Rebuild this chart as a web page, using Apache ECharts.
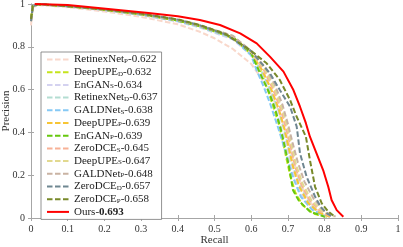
<!DOCTYPE html>
<html>
<head>
<meta charset="utf-8">
<script src="https://cdn.jsdelivr.net/npm/echarts@6/dist/echarts.min.js"></script>
<style>html,body{margin:0;padding:0;background:#fff}#c{width:403px;height:247px}</style>
</head>
<body>
<div id="c"></div>
<script>
var xTicks = ['0','0.1','0.2','0.3','0.4','0.5','0.6','0.7','0.8','0.9','1'];
var yTicks = ['0','0.2','0.4','0.6','0.8','1'];

var methods = ['RetinexNet','DeepUPE','EnGAN','RetinexNet','GALDNet','DeepUPE','EnGAN','ZeroDCE','DeepUPE','GALDNet','ZeroDCE','ZeroDCE','Ours'];
var subs    = ['P','D','S','D','S','P','P','S','S','P','D','P',''];
var scores  = ['0.622','0.632','0.634','0.637','0.638','0.639','0.639','0.645','0.647','0.648','0.657','0.658','0.693'];
var colors  = ['#f9d8cb','#c5e41c','#d4d2f0','#b3ddd2','#86c9f5','#f7c535','#66c80e','#f8b196','#e2d98f','#c9b3a3','#6f8791','#78892a','#ff0000'];

var retinexP = [[0,0.9],[0.005,0.985],[0.02,0.995],[0.1,0.985],[0.2,0.965],[0.3,0.94],[0.4,0.905],[0.46,0.87],[0.5,0.84],[0.55,0.79],[0.6,0.72],[0.625,0.66],[0.65,0.59],[0.67,0.52],[0.685,0.45],[0.7,0.37],[0.71,0.3],[0.725,0.21],[0.745,0.12],[0.77,0.05],[0.8,0.01]];
var deepupeD = [[0,0.93],[0.005,0.99],[0.02,0.998],[0.1,0.99],[0.2,0.973],[0.3,0.952],[0.4,0.922],[0.46,0.895],[0.55,0.84],[0.6,0.765],[0.625,0.69],[0.645,0.6],[0.66,0.52],[0.675,0.44],[0.687,0.35],[0.695,0.286],[0.706,0.2],[0.72,0.12],[0.74,0.06],[0.77,0.02],[0.81,0.004]];
var enganS = [[0,0.92],[0.005,0.99],[0.02,0.997],[0.1,0.988],[0.2,0.97],[0.3,0.948],[0.4,0.918],[0.46,0.89],[0.55,0.835],[0.6,0.76],[0.63,0.67],[0.655,0.57],[0.67,0.49],[0.685,0.4],[0.7,0.31],[0.712,0.22],[0.73,0.13],[0.755,0.06],[0.785,0.02],[0.815,0.005]];
var retinexD = [[0,0.92],[0.005,0.99],[0.02,0.998],[0.1,0.99],[0.2,0.972],[0.3,0.95],[0.4,0.92],[0.46,0.893],[0.55,0.84],[0.6,0.765],[0.63,0.68],[0.655,0.59],[0.675,0.5],[0.69,0.41],[0.703,0.32],[0.716,0.23],[0.735,0.14],[0.76,0.065],[0.79,0.02],[0.82,0.005]];
var galdS = [[0,0.92],[0.005,0.99],[0.02,0.998],[0.1,0.99],[0.2,0.973],[0.3,0.951],[0.4,0.921],[0.46,0.895],[0.55,0.843],[0.6,0.76],[0.615,0.69],[0.635,0.61],[0.651,0.537],[0.668,0.45],[0.683,0.37],[0.698,0.28],[0.714,0.19],[0.735,0.1],[0.765,0.04],[0.8,0.008]];
var deepupeP = [[0,0.93],[0.005,0.99],[0.02,0.998],[0.1,0.99],[0.2,0.973],[0.3,0.952],[0.4,0.923],[0.46,0.897],[0.55,0.845],[0.6,0.77],[0.63,0.69],[0.655,0.6],[0.675,0.51],[0.69,0.42],[0.702,0.33],[0.714,0.24],[0.73,0.15],[0.755,0.07],[0.785,0.025],[0.815,0.006]];
var enganP = [[0,0.93],[0.005,0.99],[0.02,0.998],[0.1,0.99],[0.2,0.973],[0.3,0.952],[0.4,0.923],[0.46,0.897],[0.55,0.845],[0.6,0.77],[0.624,0.677],[0.648,0.59],[0.665,0.51],[0.68,0.42],[0.692,0.33],[0.703,0.24],[0.714,0.13],[0.73,0.08],[0.76,0.03],[0.8,0.006]];
var zerodceS = [[0,0.92],[0.005,0.99],[0.02,0.998],[0.1,0.99],[0.2,0.974],[0.3,0.953],[0.4,0.925],[0.46,0.898],[0.55,0.848],[0.6,0.775],[0.635,0.69],[0.66,0.6],[0.68,0.51],[0.695,0.42],[0.708,0.33],[0.72,0.24],[0.738,0.15],[0.76,0.08],[0.79,0.03],[0.82,0.006]];
var deepupeS = [[0,0.92],[0.005,0.99],[0.02,0.998],[0.1,0.99],[0.2,0.974],[0.3,0.953],[0.4,0.925],[0.46,0.9],[0.55,0.85],[0.6,0.778],[0.637,0.695],[0.662,0.61],[0.682,0.52],[0.698,0.43],[0.71,0.34],[0.722,0.25],[0.74,0.16],[0.765,0.08],[0.795,0.03],[0.825,0.006]];
var galdP = [[0,0.92],[0.005,0.99],[0.02,0.998],[0.1,0.99],[0.2,0.975],[0.3,0.954],[0.4,0.926],[0.46,0.9],[0.55,0.852],[0.6,0.78],[0.64,0.7],[0.665,0.62],[0.685,0.53],[0.7,0.44],[0.713,0.35],[0.727,0.26],[0.745,0.17],[0.77,0.09],[0.8,0.03],[0.83,0.006]];
var zerodceD = [[0,0.92],[0.005,0.99],[0.02,1.0],[0.1,0.99],[0.2,0.975],[0.3,0.955],[0.4,0.927],[0.46,0.9],[0.53,0.858],[0.6,0.78],[0.651,0.676],[0.678,0.598],[0.706,0.52],[0.724,0.427],[0.733,0.302],[0.751,0.193],[0.774,0.1],[0.79,0.05],[0.806,0.022],[0.82,0.008]];
var zerodceP = [[0,0.93],[0.005,0.99],[0.02,1.0],[0.1,0.99],[0.2,0.975],[0.3,0.955],[0.4,0.928],[0.46,0.902],[0.53,0.86],[0.597,0.785],[0.642,0.723],[0.678,0.645],[0.706,0.551],[0.724,0.473],[0.749,0.38],[0.76,0.271],[0.774,0.146],[0.792,0.069],[0.81,0.03],[0.824,0.012]];
var ours = [[0.01,1.0],[0.1,0.995],[0.19,0.98],[0.32,0.958],[0.4,0.943],[0.46,0.925],[0.515,0.902],[0.57,0.863],[0.615,0.816],[0.651,0.754],[0.688,0.684],[0.715,0.598],[0.733,0.52],[0.749,0.443],[0.76,0.38],[0.778,0.302],[0.796,0.224],[0.81,0.146],[0.819,0.084],[0.833,0.037],[0.851,0.006]];

var curves = [retinexP, deepupeD, enganS, retinexD, galdS, deepupeP, enganP, zerodceS, deepupeS, galdP, zerodceD, zerodceP, ours];

var FONT = '"Liberation Serif", "DejaVu Serif", serif';
var names = methods.map(function(m, i){ return m + subs[i] + '-' + scores[i] + '#' + i; });

var series = curves.map(function(d, i){
  var isOurs = (i === curves.length - 1);
  return {
    type: 'line',
    name: names[i],
    data: d,
    symbol: 'none',
    smooth: false,
    z: 2 + i,
    lineStyle: { color: colors[i], width: 2, type: isOurs ? 'solid' : [5.5, 2.5] },
    itemStyle: { color: colors[i] }
  };
});

var chart = echarts.init(document.getElementById('c'), null, {renderer: 'canvas'});
var axisLineGray = '#a6a6a6';
chart.setOption({
  animation: false,
  backgroundColor: '#fff',
  grid: { left: 31, right: 5, top: 4, bottom: 29, containLabel: false, outerBoundsMode: 'none' },
  legend: {
    orient: 'vertical',
    left: 41, top: 52,
    padding: [2, 4, 2, 5],
    itemGap: 1.7,
    itemWidth: 22, itemHeight: 10,
    backgroundColor: '#fff',
    borderColor: '#777', borderWidth: 0.8,
    itemStyle: { opacity: 0 },
    data: names,
    formatter: function(n){
      var i = +n.split('#')[1];
      if (subs[i] === '') return '{n|' + methods[i] + '-}{b|' + scores[i] + '}';
      return '{n|' + methods[i] + '}{s|' + subs[i] + '}{n|-' + scores[i] + '}';
    },
    textStyle: {
      fontFamily: FONT, fontSize: 11, color: '#222', lineHeight: 10,
      rich: {
        n: { fontFamily: FONT, fontSize: 11, color: '#222', lineHeight: 10 },
        b: { fontFamily: FONT, fontSize: 11, color: '#222', fontWeight: 'bold', lineHeight: 10 },
        s: { fontFamily: FONT, fontSize: 7, color: '#222', verticalAlign: 'bottom', padding: [3, 0, 0, 0] }
      }
    }
  },
  xAxis: [{
    type: 'value', min: 0, max: 1, interval: 0.1, position: 'bottom',
    name: 'Recall', nameLocation: 'middle', nameGap: 17, nameMoveOverlap: false,
    nameTextStyle: { fontFamily: FONT, fontSize: 11, color: '#333' },
    axisLine: { show: true, lineStyle: { color: axisLineGray, width: 1 } },
    axisTick: { show: true, inside: true, length: 3, lineStyle: { color: axisLineGray } },
    axisLabel: { fontFamily: FONT, fontSize: 10, color: '#333', margin: 6,
      formatter: function(v){ return xTicks[Math.round(v * 10)]; } },
    splitLine: { show: false }
  }, {
    type: 'value', min: 0, max: 1, interval: 0.1, position: 'top',
    axisLine: { show: true, lineStyle: { color: axisLineGray, width: 1 } },
    axisTick: { show: true, inside: true, length: 3, lineStyle: { color: axisLineGray } },
    axisLabel: { show: false }, splitLine: { show: false }
  }],
  yAxis: [{
    type: 'value', min: 0, max: 1, interval: 0.2, position: 'left',
    name: 'Precision', nameLocation: 'middle', nameGap: 19, nameMoveOverlap: false,
    nameTextStyle: { fontFamily: FONT, fontSize: 11, color: '#333' },
    axisLine: { show: true, lineStyle: { color: axisLineGray, width: 1 } },
    axisTick: { show: true, inside: true, length: 3, lineStyle: { color: axisLineGray } },
    axisLabel: { fontFamily: FONT, fontSize: 10, color: '#333', margin: 6,
      formatter: function(v){ return yTicks[Math.round(v * 5)]; } },
    splitLine: { show: false }
  }, {
    type: 'value', min: 0, max: 1, interval: 0.2, position: 'right',
    axisLine: { show: true, lineStyle: { color: axisLineGray, width: 1 } },
    axisTick: { show: true, inside: true, length: 3, lineStyle: { color: axisLineGray } },
    axisLabel: { show: false }, splitLine: { show: false }
  }],
  series: series
});
</script>
</body>
</html>
